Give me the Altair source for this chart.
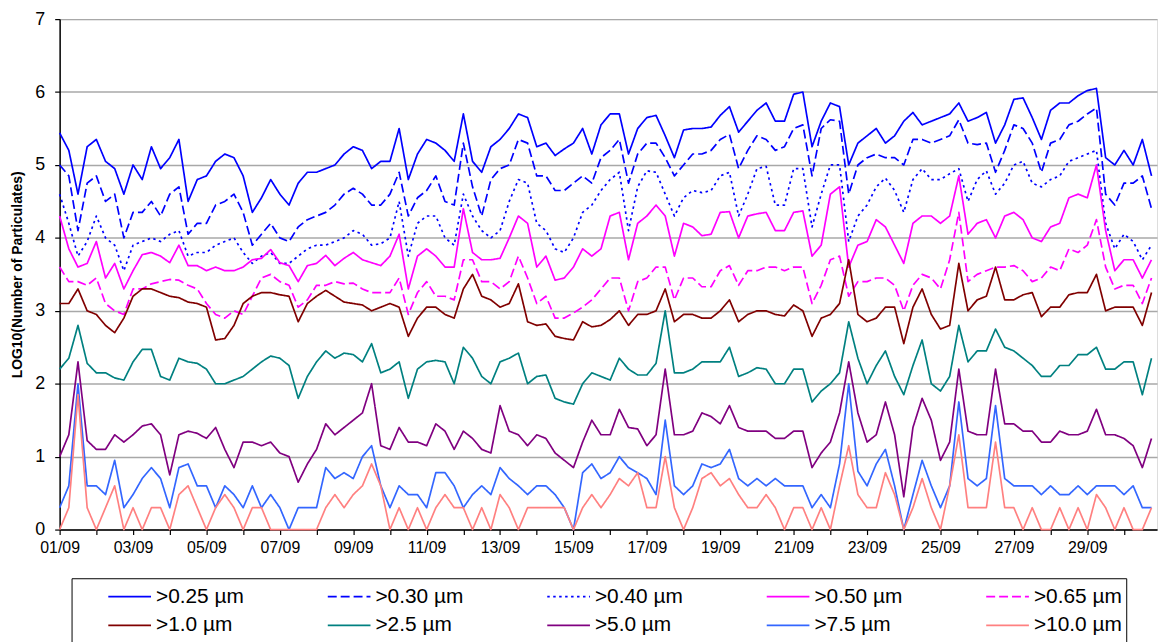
import json
import altair as alt
import pandas as pd

# ---- series (log10 of particle counts), one reading every 6 hours from 01/09 00:00 ----
series_names = [">0.25 µm", ">0.30 µm", ">0.40 µm", ">0.50 µm", ">0.65 µm",
                ">1.0 µm", ">2.5 µm", ">5.0 µm", ">7.5 µm", ">10.0 µm"]
series_colors = ["#0000FF", "#0000FF", "#0000FF", "#FF00FF", "#FF00FF",
                 "#800000", "#008080", "#800080", "#3366FF", "#FF8080"]
series_dashes = [[1, 0], [9, 4], [2.5, 3.5], [1, 0], [9, 4],
                 [1, 0], [1, 0], [1, 0], [1, 0], [1, 0]]

s025 = [5.44, 5.2, 4.6, 5.25, 5.35, 5.05, 4.95, 4.6, 5.0, 4.8, 5.25, 4.95, 5.1, 5.35, 4.5, 4.8,
        4.85, 5.05, 5.15, 5.1, 4.85, 4.35, 4.55, 4.8, 4.6, 4.45, 4.75, 4.9, 4.9, 4.95, 5.0, 5.15,
        5.25, 5.2, 4.95, 5.05, 5.05, 5.5, 4.8, 5.15, 5.35, 5.3, 5.2, 5.05, 5.7, 5.05, 4.9, 5.25,
        5.35, 5.5, 5.7, 5.65, 5.25, 5.3, 5.13, 5.22, 5.3, 5.5, 5.15, 5.55, 5.7, 5.7, 5.15, 5.5,
        5.65, 5.68, 5.4, 5.1, 5.48, 5.5, 5.5, 5.52, 5.68, 5.8, 5.45, 5.6, 5.75, 5.85, 5.6, 5.6,
        5.97, 6.0, 5.25, 5.6, 5.85, 5.8, 5.0, 5.3, 5.4, 5.5, 5.3, 5.4, 5.6, 5.72, 5.55, 5.6,
        5.65, 5.7, 5.85, 5.6, 5.65, 5.72, 5.3, 5.55, 5.9, 5.92, 5.65, 5.35, 5.75, 5.85, 5.85, 5.95,
        6.02, 6.05, 5.1, 5.0, 5.2, 5.0, 5.35, 4.85]
s030 = [5.0, 4.85, 4.1, 4.75, 4.85, 4.5, 4.6, 4.0, 4.35, 4.35, 4.5, 4.3, 4.6, 4.7, 4.05, 4.2,
        4.2, 4.45, 4.5, 4.6, 4.35, 3.9, 4.05, 4.2, 4.0, 3.95, 4.15, 4.25, 4.3, 4.35, 4.45, 4.6,
        4.68, 4.6, 4.45, 4.45, 4.6, 4.9, 4.3, 4.55, 4.65, 4.85, 4.5, 4.45, 5.3, 4.7, 4.3, 4.8,
        4.95, 5.0, 5.35, 5.3, 4.85, 4.85, 4.65, 4.65, 4.75, 4.85, 4.75, 5.1, 5.2, 5.35, 4.75, 5.15,
        5.3, 5.3, 5.1, 4.85, 5.0, 5.15, 5.15, 5.2, 5.35, 5.42, 4.95, 5.2, 5.4, 5.35, 5.2, 5.25,
        5.5, 5.55, 4.85, 5.5, 5.62, 5.6, 4.6, 5.0, 5.1, 5.15, 5.1, 5.1, 5.0, 5.35, 5.35, 5.3,
        5.35, 5.4, 5.62, 5.3, 5.28, 5.3, 4.9, 5.2, 5.55, 5.5, 5.3, 4.9, 5.3, 5.35, 5.55, 5.6,
        5.7, 5.78, 4.6, 4.45, 4.75, 4.75, 4.85, 4.4]
s040 = [4.6, 4.2, 3.75, 3.95, 4.3, 4.0, 3.9, 3.55, 3.9, 3.95, 4.0, 3.95, 4.05, 4.1, 3.75, 3.8,
        3.8, 3.9, 3.95, 4.0, 3.8, 3.65, 3.75, 3.8, 3.65, 3.65, 3.75, 3.85, 3.9, 3.9, 3.95, 4.0,
        4.1, 4.05, 3.9, 3.92, 4.0, 4.5, 3.75, 4.2, 4.3, 4.3, 4.0, 3.9, 4.6, 4.3, 4.1, 4.0,
        4.1, 4.5, 4.8, 4.75, 4.2, 4.1, 3.85, 3.8, 4.0, 4.35, 4.45, 4.65, 4.8, 4.9, 4.1, 4.7,
        4.92, 4.9, 4.6, 4.3, 4.55, 4.65, 4.62, 4.65, 4.85, 4.9, 4.3, 4.6, 4.95, 4.98, 4.45, 4.45,
        4.95, 4.95, 4.15, 4.6, 5.0, 5.0, 3.95, 4.3, 4.45, 4.7, 4.82, 4.65, 4.35, 4.8, 4.95, 4.8,
        4.8, 4.88, 4.95, 4.5, 4.8, 4.92, 4.6, 4.75, 5.0, 5.05, 4.75, 4.7, 4.8, 4.85, 5.05, 5.1,
        5.15, 5.2, 4.2, 3.85, 4.05, 3.95, 3.7, 3.9]
s050 = [4.3, 3.85, 3.6, 3.65, 3.95, 3.45, 3.65, 3.3, 3.55, 3.77, 3.8, 3.75, 3.66, 3.9, 3.62, 3.62,
        3.55, 3.6, 3.55, 3.55, 3.6, 3.7, 3.72, 3.84, 3.66, 3.62, 3.4, 3.62, 3.65, 3.76, 3.62, 3.72,
        3.8, 3.7, 3.66, 3.62, 3.75, 4.05, 3.3, 3.75, 3.85, 3.75, 3.6, 3.6, 4.4, 3.8, 3.7, 3.7,
        3.72, 4.0, 4.3, 4.2, 3.6, 3.75, 3.42, 3.45, 3.6, 3.85, 3.75, 3.85, 4.3, 4.35, 3.7, 4.2,
        4.3, 4.45, 4.3, 3.75, 4.2, 4.15, 4.03, 4.05, 4.35, 4.36, 4.0, 4.3, 4.33, 4.35, 4.1, 4.1,
        4.35, 4.37, 3.75, 3.9, 4.6, 4.7, 3.6, 3.9, 3.95, 4.25, 4.15, 3.9, 3.65, 4.2, 4.3, 4.3,
        4.2, 4.3, 4.85, 4.05, 4.2, 4.25, 4.0, 4.3, 4.35, 4.25, 4.0, 3.95, 4.15, 4.2, 4.55, 4.6,
        4.55, 5.0, 4.1, 3.55, 3.7, 3.7, 3.45, 3.7]
s065 = [3.6, 3.4, 3.4, 3.35, 3.45, 3.1, 3.0, 2.95, 3.3, 3.3, 3.37, 3.4, 3.43, 3.42, 3.35, 3.3,
        3.1, 2.95, 2.9, 3.0, 2.95, 3.2, 3.45, 3.5, 3.4, 3.35, 3.05, 3.15, 3.35, 3.35, 3.4, 3.37,
        3.38, 3.3, 3.25, 3.25, 3.25, 3.45, 2.95, 3.25, 3.4, 3.2, 3.2, 3.15, 3.7, 3.7, 3.4, 3.4,
        3.3, 3.4, 3.75, 3.45, 3.1, 3.2, 2.9, 2.9, 2.97, 3.05, 3.15, 3.3, 3.45, 3.45, 3.0, 3.4,
        3.45, 3.6, 3.6, 3.15, 3.45, 3.45, 3.33, 3.33, 3.55, 3.62, 3.35, 3.55, 3.55, 3.6, 3.6, 3.55,
        3.6, 3.6, 3.1, 3.35, 3.7, 3.75, 3.2, 3.4, 3.4, 3.45, 3.45, 3.35, 3.0, 3.35, 3.5, 3.45,
        3.3, 3.7, 4.35, 3.4, 3.5, 3.55, 3.6, 3.6, 3.62, 3.55, 3.4, 3.45, 3.6, 3.55, 3.85, 3.8,
        3.9, 4.25, 3.6, 3.3, 3.35, 3.35, 3.1, 3.45]
s100 = [3.1, 3.1, 3.3, 3.0, 2.95, 2.8, 2.7, 2.9, 3.2, 3.3, 3.3, 3.25, 3.2, 3.18, 3.12, 3.1,
        3.05, 2.6, 2.62, 2.8, 3.1, 3.2, 3.25, 3.25, 3.22, 3.2, 2.85, 3.1, 3.2, 3.28, 3.2, 3.12,
        3.1, 3.08, 3.0, 3.05, 3.1, 3.05, 2.65, 2.9, 3.05, 3.05, 2.95, 2.9, 3.3, 3.5, 3.2, 3.15,
        3.05, 3.1, 3.37, 2.85, 2.8, 2.82, 2.65, 2.62, 2.6, 2.85, 2.78, 2.8, 2.88, 3.0, 2.8, 2.95,
        2.95, 3.0, 3.3, 2.85, 2.95, 2.95, 2.9, 2.9, 3.0, 3.15, 2.85, 2.95, 3.0, 3.0, 2.95, 2.93,
        3.08, 3.0, 2.65, 2.9, 2.95, 3.1, 3.7, 2.95, 2.85, 2.9, 3.05, 3.05, 2.55, 3.05, 3.3, 2.95,
        2.75, 2.8, 3.65, 3.0, 3.15, 3.2, 3.6, 3.15, 3.15, 3.22, 3.25, 2.92, 3.05, 3.05, 3.22, 3.25,
        3.25, 3.5, 3.0, 3.05, 3.05, 3.05, 2.8, 3.25]
s250 = [2.2, 2.35, 2.8, 2.28, 2.15, 2.15, 2.08, 2.05, 2.3, 2.47, 2.47, 2.1, 2.05, 2.35, 2.3, 2.28,
        2.2, 2.0, 2.0, 2.05, 2.1, 2.2, 2.3, 2.38, 2.35, 2.25, 1.8, 2.1, 2.3, 2.45, 2.35, 2.42,
        2.4, 2.3, 2.55, 2.15, 2.2, 2.3, 1.8, 2.2, 2.3, 2.32, 2.3, 2.0, 2.5, 2.35, 2.1, 2.0,
        2.3, 2.35, 2.42, 2.0, 2.1, 2.12, 1.8, 1.75, 1.72, 2.0, 2.15, 2.1, 2.05, 2.35, 2.2, 2.12,
        2.12, 2.28, 3.0, 2.15, 2.15, 2.2, 2.3, 2.3, 2.3, 2.5, 2.1, 2.15, 2.22, 2.2, 2.0, 2.0,
        2.2, 2.2, 1.75, 1.9, 2.0, 2.15, 2.85, 2.35, 2.0, 2.25, 2.45, 2.1, 1.85, 2.25, 2.6, 2.0,
        1.9, 2.1, 2.8, 2.3, 2.45, 2.45, 2.75, 2.5, 2.45, 2.35, 2.25, 2.1, 2.1, 2.25, 2.25, 2.4,
        2.4, 2.5, 2.2, 2.2, 2.3, 2.3, 1.85, 2.35]
s500 = [1.0, 1.3, 2.3, 1.22, 1.1, 1.1, 1.3, 1.2, 1.3, 1.42, 1.45, 1.3, 0.75, 1.3, 1.35, 1.32,
        1.25, 1.4, 1.1, 0.85, 1.2, 1.2, 1.15, 1.2, 1.05, 1.0, 0.65, 0.9, 1.1, 1.45, 1.3, 1.4,
        1.5, 1.6, 2.0, 1.15, 1.1, 1.4, 1.2, 1.2, 1.15, 1.45, 1.35, 1.1, 1.35, 1.25, 1.1, 1.05,
        1.7, 1.35, 1.3, 1.15, 1.3, 1.25, 1.05, 0.95, 0.85, 1.2, 1.5, 1.3, 1.3, 1.65, 1.4, 1.38,
        1.15, 1.3, 2.2, 1.3, 1.3, 1.35, 1.6, 1.55, 1.45, 1.7, 1.4, 1.35, 1.35, 1.35, 1.25, 1.25,
        1.35, 1.35, 0.85, 1.05, 1.2, 1.6, 2.3, 1.6, 1.2, 1.3, 1.75, 1.3, 0.45, 1.4, 1.8, 1.5,
        0.95, 1.2, 2.2, 1.35, 1.3, 1.3, 2.2, 1.45, 1.45, 1.35, 1.35, 1.2, 1.2, 1.35, 1.3, 1.3,
        1.35, 1.65, 1.3, 1.3, 1.25, 1.15, 0.85, 1.25]
s750 = [0.3, 0.6, 2.0, 0.6, 0.6, 0.48, 0.95, 0.3, 0.48, 0.7, 0.85, 0.7, 0.3, 0.85, 0.9, 0.6,
        0.6, 0.3, 0.6, 0.48, 0.3, 0.6, 0.3, 0.48, 0.3, 0.0, 0.3, 0.3, 0.3, 0.85, 0.7, 0.78,
        0.7, 1.0, 1.15, 0.6, 0.3, 0.6, 0.48, 0.48, 0.3, 0.78, 0.78, 0.6, 0.3, 0.48, 0.6, 0.48,
        0.85, 0.7, 0.6, 0.48, 0.6, 0.6, 0.48, 0.3, 0.0, 0.78, 0.9, 0.7, 0.78, 1.0, 0.85, 0.78,
        0.7, 0.48, 1.5, 0.6, 0.48, 0.6, 0.9, 0.85, 0.9, 1.1, 0.7, 0.6, 0.7, 0.6, 0.7, 0.6,
        0.6, 0.6, 0.3, 0.48, 0.3, 0.9, 2.0, 0.8, 0.6, 0.9, 1.1, 0.6, 0.0, 0.48, 0.95, 0.6,
        0.3, 0.6, 1.75, 0.7, 0.6, 0.7, 1.7, 0.7, 0.6, 0.6, 0.6, 0.48, 0.6, 0.48, 0.48, 0.6,
        0.48, 0.6, 0.6, 0.6, 0.48, 0.6, 0.3, 0.3]
s1000 = [0.0, 0.3, 1.85, 0.3, 0.0, 0.3, 0.6, 0.0, 0.3, 0.0, 0.3, 0.3, 0.0, 0.48, 0.6, 0.3,
         0.0, 0.3, 0.48, 0.3, 0.0, 0.3, 0.3, 0.0, 0.0, 0.0, 0.0, 0.0, 0.0, 0.3, 0.48, 0.3,
         0.48, 0.6, 0.9, 0.6, 0.0, 0.3, 0.0, 0.3, 0.0, 0.3, 0.48, 0.3, 0.3, 0.0, 0.3, 0.0,
         0.48, 0.3, 0.0, 0.3, 0.3, 0.3, 0.3, 0.3, 0.0, 0.3, 0.48, 0.3, 0.48, 0.7, 0.6, 0.78,
         0.3, 0.3, 1.0, 0.3, 0.0, 0.3, 0.7, 0.78, 0.6, 0.7, 0.48, 0.3, 0.3, 0.48, 0.3, 0.0,
         0.3, 0.3, 0.0, 0.3, 0.0, 0.6, 1.15, 0.48, 0.3, 0.3, 0.78, 0.48, 0.0, 0.3, 0.7, 0.3,
         0.0, 0.6, 1.3, 0.3, 0.3, 0.3, 1.2, 0.3, 0.3, 0.0, 0.3, 0.0, 0.0, 0.3, 0.0, 0.3,
         0.0, 0.48, 0.3, 0.0, 0.3, 0.0, 0.0, 0.3]

series_values = [s025, s030, s040, s050, s065, s100, s250, s500, s750, s1000]
readings_per_day = 4

# x-axis: one tick per day, a label every second day
day_ticks = list(range(0, 30))
day_labels = ["01/09", "", "03/09", "", "05/09", "", "07/09", "", "09/09", "",
              "11/09", "", "13/09", "", "15/09", "", "17/09", "", "19/09", "",
              "21/09", "", "23/09", "", "25/09", "", "27/09", "", "29/09", ""]
y_ticks = [0, 1, 2, 3, 4, 5, 6, 7]

rows = []
for name, vals in zip(series_names, series_values):
    for i, v in enumerate(vals):
        rows.append({"t": i / readings_per_day, "v": v, "s": name})
df = pd.DataFrame(rows)

FONT = "Liberation Sans"

legend = alt.Legend(
    title=None, orient="none", legendX=12, legendY=563, columns=5, direction="horizontal",
    symbolType="stroke", symbolSize=1849, symbolStrokeWidth=1.7,
    clipHeight=29, gridAlign="all", columnPadding=51, rowPadding=0,
    labelFont=FONT, labelFontSize=21, labelColor="black", labelLimit=300,
    labelOffset=4, symbolOffset=32, padding=4, strokeColor="black",
)

chart = alt.Chart(df).mark_line(strokeWidth=1.7, strokeJoin="round").encode(
    x=alt.X("t:Q",
            scale=alt.Scale(domain=[0, 29.9], nice=False, zero=False),
            axis=alt.Axis(title=None, values=day_ticks,
                          labelExpr=json.dumps(day_labels) + "[datum.value]",
                          labelFont=FONT, labelFontSize=16, labelColor="black",
                          labelPadding=5, tickSize=5, tickColor="black", tickWidth=1.2,
                          domainColor="black", domainWidth=1.5, grid=False,
                          labelOverlap=False, labelFlush=False)),
    y=alt.Y("v:Q",
            scale=alt.Scale(domain=[0, 7], nice=False),
            axis=alt.Axis(title="LOG10(Number of Particulates)", values=y_ticks,
                          titleFont=FONT, titleFontSize=14, titleFontWeight="bold",
                          titleColor="black", titlePadding=10,
                          labelFont=FONT, labelFontSize=18, labelColor="black",
                          labelPadding=10, tickSize=5, tickColor="black", tickWidth=1.2,
                          domainColor="black", domainWidth=1.5,
                          grid=True, gridColor="#A8A8A8", gridWidth=1.5)),
    color=alt.Color("s:N", scale=alt.Scale(domain=series_names, range=series_colors),
                    legend=legend),
    strokeDash=alt.StrokeDash("s:N", scale=alt.Scale(domain=series_names, range=series_dashes),
                              legend=legend),
).properties(
    width=1105, height=514,
    padding={"left": 52, "top": 9, "right": 3, "bottom": 111},
    autosize=alt.AutoSizeParams(type="none"),
).configure_view(
    fill="#FFFFCC", stroke="transparent"
).configure(
    font=FONT, background="white"
)

chart.save("out.html", embed_options={"renderer": "svg", "actions": False})
